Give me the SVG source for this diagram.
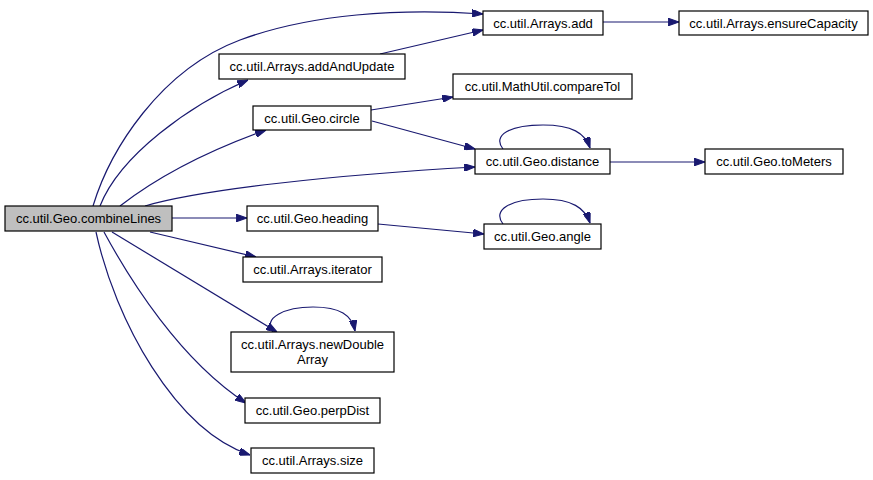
<svg xmlns="http://www.w3.org/2000/svg" width="873" height="480" viewBox="0 0 873 480">
<style>
.n rect{fill:#fff;stroke:#000;stroke-width:1.2}
.n text{font-family:"Liberation Sans",Arial,sans-serif;font-size:13px;text-anchor:middle;fill:#000}
#combineLines rect{fill:#bfbfbf}
.e path{fill:none;stroke:#191970;stroke-width:1.2;marker-end:url(#ah)}
</style>
<defs>
<marker id="ah" viewBox="0 0 10 7" refX="10" refY="3.5" markerWidth="11" markerHeight="7.5" markerUnits="userSpaceOnUse" orient="auto">
<path d="M0,0 L10,3.5 L0,7 Z" fill="#191970" stroke="#191970"/>
</marker>
</defs>
<rect width="873" height="480" fill="#fff"/>
<g class="e" id="connectors">
<path d="M93,206 C110,150 160,70 240,40 C310,14 400,8 483,14"/>
<path d="M380,54 L483,30"/>
<path d="M603,22 L679,22"/>
<path d="M100,206 C120,155 190,105 248,80"/>
<path d="M120,206 C160,175 210,150 266,130"/>
<path d="M145,206 C200,190 330,175 475,167"/>
<path d="M371,110 L453,97"/>
<path d="M372,121 L475,149"/>
<path d="M503,149 C492,135 510,125 543,125 C572,125 585,133 590,148"/>
<path d="M610,162 L705,162"/>
<path d="M172,218 L247,218"/>
<path d="M378,224 L484,234"/>
<path d="M503,224 C492,210 510,199 543,199 C572,199 585,208 590,223"/>
<path d="M150,232 L256,257"/>
<path d="M112,232 L277,332"/>
<path d="M273,332 C262,318 285,307 313,307 C340,307 352,315 355,331"/>
<path d="M104,232 C130,280 180,360 246,403"/>
<path d="M96,232 C115,320 175,430 250,455"/>
</g>
<g class="n" id="combineLines"><rect x="5" y="206" width="167" height="25"/><text x="88.5" y="223">cc.util.Geo.combineLines</text></g>
<g class="n" id="add"><rect x="483" y="11" width="120" height="24"/><text x="543" y="27.5">cc.util.Arrays.add</text></g>
<g class="n" id="ensureCapacity"><rect x="679" y="11" width="189" height="24"/><text x="773.5" y="27.5">cc.util.Arrays.ensureCapacity</text></g>
<g class="n" id="addAndUpdate"><rect x="219" y="54" width="186" height="25"/><text x="312" y="71">cc.util.Arrays.addAndUpdate</text></g>
<g class="n" id="compareTol"><rect x="453" y="74" width="179" height="25"/><text x="542.5" y="91">cc.util.MathUtil.compareTol</text></g>
<g class="n" id="circle"><rect x="253" y="106" width="118" height="24"/><text x="312" y="122.5">cc.util.Geo.circle</text></g>
<g class="n" id="distance"><rect x="475" y="149" width="135" height="25"/><text x="542.5" y="166">cc.util.Geo.distance</text></g>
<g class="n" id="toMeters"><rect x="705" y="149" width="138" height="25"/><text x="774" y="166">cc.util.Geo.toMeters</text></g>
<g class="n" id="heading"><rect x="247" y="206" width="131" height="25"/><text x="312.5" y="223">cc.util.Geo.heading</text></g>
<g class="n" id="angle"><rect x="484" y="224" width="117" height="25"/><text x="542.5" y="241">cc.util.Geo.angle</text></g>
<g class="n" id="iterator"><rect x="243" y="257" width="139" height="25"/><text x="312.5" y="274">cc.util.Arrays.iterator</text></g>
<g class="n" id="newDoubleArray"><rect x="231" y="332" width="163" height="40"/><text x="312.5" y="349">cc.util.Arrays.newDouble</text><text x="312.5" y="364">Array</text></g>
<g class="n" id="perpDist"><rect x="245" y="398" width="135" height="25"/><text x="312.5" y="415">cc.util.Geo.perpDist</text></g>
<g class="n" id="size"><rect x="251" y="448" width="123" height="25"/><text x="312.5" y="465">cc.util.Arrays.size</text></g>
</svg>
